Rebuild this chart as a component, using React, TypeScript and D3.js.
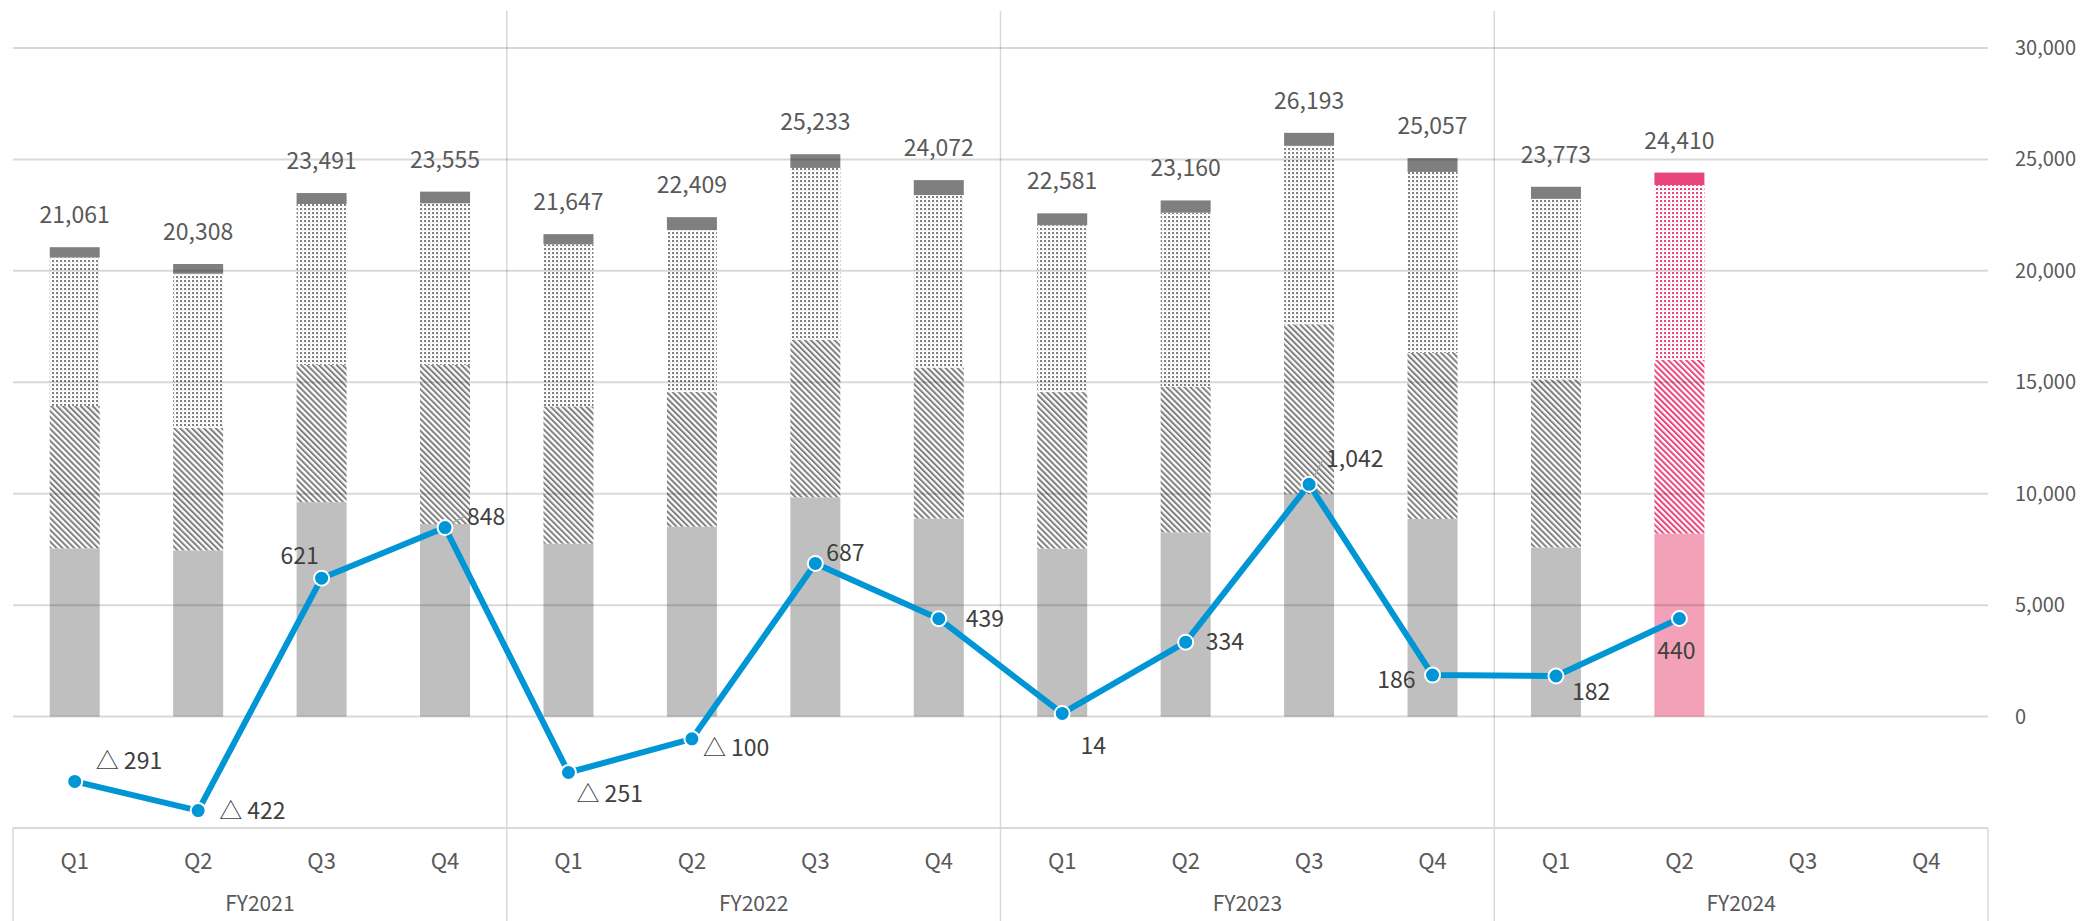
import React from 'react';
import * as d3 from 'd3';

const fiscalYears = ['FY2021', 'FY2022', 'FY2023', 'FY2024'];
const quarters = ['Q1', 'Q2', 'Q3', 'Q4'];
const totals = [21061, 20308, 23491, 23555, 21647, 22409, 25233, 24072, 22581, 23160, 26193, 25057, 23773, 24410];
const segSolid = [7550, 7460, 9620, 8640, 7760, 8520, 9840, 8890, 7540, 8270, 9980, 8870, 7590, 8210];
const segHatch = [6390, 5490, 6160, 7140, 6160, 6040, 7070, 6770, 7020, 6530, 7620, 7450, 7540, 7800];
const segDots = [6660, 6920, 7220, 7250, 7270, 7270, 7710, 7740, 7490, 7810, 8010, 8120, 8100, 7840];
const segCap = [461, 438, 491, 525, 457, 579, 613, 672, 531, 550, 583, 617, 543, 560];
const operatingIncome = [-291, -422, 621, 848, -251, -100, 687, 439, 14, 334, 1042, 186, 182, 440];
const leftTicks = [0, 5000, 10000, 15000, 20000, 25000, 30000];

// presentation: label placement for the line values
const lineLabelPlacement: { dx: number; dy: number; anchor: string; leader?: boolean }[] = [
  { dx: 21, dy: -20, anchor: 'start' },
  { dx: 21, dy: 0, anchor: 'start' },
  { dx: -22, dy: -22, anchor: 'middle' },
  { dx: 22, dy: -11, anchor: 'start', leader: true },
  { dx: 8, dy: 21, anchor: 'start' },
  { dx: 11, dy: 9, anchor: 'start' },
  { dx: 11, dy: -11, anchor: 'start' },
  { dx: 27, dy: 0, anchor: 'start' },
  { dx: 31, dy: 32, anchor: 'middle' },
  { dx: 20, dy: 0, anchor: 'start' },
  { dx: 17, dy: -25, anchor: 'start', leader: true },
  { dx: -17, dy: 5, anchor: 'end' },
  { dx: 16, dy: 16, anchor: 'start' },
  { dx: -3, dy: 32, anchor: 'middle' },
];

const W = 2088;
const H = 921;
const PLOT_L = 13;
const PLOT_R = 1988;
const PLOT_TOP = 11;
const AXIS_Y = 828;
const HIGHLIGHT = 13;
const FONT = '"Noto Sans CJK JP", "Noto Sans", sans-serif';
const TEXT = '#595959';

export default function App() {
  const cats = d3.range(fiscalYears.length * quarters.length);
  const x = d3.scaleBand<number>().domain(cats).range([PLOT_L, PLOT_R]);
  const bw = x.bandwidth();
  const barW = bw * 0.405;
  const y = d3.scaleLinear().domain([-5000, 30000]).range([AXIS_Y, 48]);
  const y2 = d3.scaleLinear().domain([-500, 3000]).range([AXIS_Y, 48]);
  const cx = (i: number) => (x(i) as number) + bw / 2;
  const fmt = d3.format(',');

  const stack = totals.map((_, i) => {
    const vals = [segSolid[i], segHatch[i], segDots[i], segCap[i]];
    let acc = 0;
    return vals.map((v) => {
      const s = { y0: acc, y1: acc + v };
      acc += v;
      return s;
    });
  });

  const fillsGray = ['#BFBFBF', 'url(#hatchGray)', 'url(#dotsGray)', '#7F7F7F'];
  const fillsPink = ['#F2A1B9', 'url(#hatchPink)', 'url(#dotsPink)', '#E8457A'];

  const line = d3
    .line<number>()
    .x((_, i) => cx(i))
    .y((d) => y2(d));

  const lineLabel = (v: number) => (v < 0 ? '△ ' + fmt(-v) : fmt(v));

  return (
    <svg
      width={W}
      height={H}
      style={{ position: 'absolute', left: 0, top: 0, background: '#fff' }}
      fontFamily={FONT}
    >
      <defs>
        <pattern id="hatchGray" width="4.2" height="4.2" patternUnits="userSpaceOnUse" patternTransform="rotate(-45)">
          <rect width="4.2" height="4.2" fill="#fff" />
          <rect width="2" height="4.2" fill="#7F7F7F" />
        </pattern>
        <pattern id="hatchPink" width="4.2" height="4.2" patternUnits="userSpaceOnUse" patternTransform="rotate(-45)">
          <rect width="4.2" height="4.2" fill="#fff" />
          <rect width="2" height="4.2" fill="#E8457A" />
        </pattern>
        <pattern id="dotsGray" width="4" height="4" patternUnits="userSpaceOnUse">
          <rect width="4" height="4" fill="#fff" />
          <rect width="2" height="2" fill="#808080" />
          <rect x="2" y="2" width="1" height="1" fill="#D0D0D0" />
        </pattern>
        <pattern id="dotsPink" width="4" height="4" patternUnits="userSpaceOnUse">
          <rect width="4" height="4" fill="#fff" />
          <rect width="2" height="2" fill="#E8457A" />
          <rect x="2" y="2" width="1" height="1" fill="#F5B8CA" />
        </pattern>
      </defs>

      {/* vertical dividers */}
      {d3.range(1, fiscalYears.length).map((g) => {
        const xx = x(g * quarters.length) as number;
        return <line key={'d' + g} x1={xx} x2={xx} y1={PLOT_TOP} y2={H} stroke="#D9D9D9" strokeWidth={1.5} />;
      })}
      <line x1={PLOT_L} x2={PLOT_L} y1={AXIS_Y} y2={H} stroke="#D9D9D9" strokeWidth={1.5} />
      <line x1={PLOT_R} x2={PLOT_R} y1={AXIS_Y} y2={H} stroke="#D9D9D9" strokeWidth={1.5} />

      {/* bars */}
      {stack.map((segs, i) =>
        segs.map((s, k) => (
          <rect
            key={`b${i}-${k}`}
            x={cx(i) - barW / 2}
            width={barW}
            y={y(s.y1)}
            height={y(s.y0) - y(s.y1)}
            fill={(i === HIGHLIGHT ? fillsPink : fillsGray)[k]}
          />
        ))
      )}

      {/* gridlines on top */}
      {leftTicks.map((t) => (
        <line key={'g' + t} x1={PLOT_L} x2={PLOT_R} y1={y(t)} y2={y(t)} stroke="#000" strokeOpacity={0.15} strokeWidth={2} />
      ))}
      <line x1={PLOT_L} x2={PLOT_R} y1={AXIS_Y} y2={AXIS_Y} stroke="#D9D9D9" strokeWidth={2} />

      {/* right axis labels */}
      {leftTicks.map((t) => (
        <text key={'t' + t} x={2015} y={y(t)} dy="0.35em" fontSize={20} fill={TEXT}>
          {fmt(t)}
        </text>
      ))}

      {/* totals */}
      {totals.map((t, i) => (
        <text key={'tot' + i} x={cx(i)} y={y(t) - 32} dy="0.35em" textAnchor="middle" fontSize={23} fill={TEXT}>
          {fmt(t)}
        </text>
      ))}

      {/* line */}
      <path d={line(operatingIncome) || ''} fill="none" stroke="#0096D6" strokeWidth={6} strokeLinejoin="round" />
      {operatingIncome.map((v, i) => {
        const p = lineLabelPlacement[i];
        const px = cx(i);
        const py = y2(v);
        return (
          <g key={'p' + i}>
            {p.leader && (
              <line x1={px + 2} y1={py - 2} x2={px + p.dx - 3} y2={py + p.dy} stroke="#A6A6A6" strokeWidth={1.5} />
            )}
            <circle cx={px} cy={py} r={7.5} fill="#0096D6" stroke="#fff" strokeWidth={2} />
          </g>
        );
      })}
      {operatingIncome.map((v, i) => {
        const p = lineLabelPlacement[i];
        return (
          <text
            key={'l' + i}
            x={cx(i) + p.dx}
            y={y2(v) + p.dy}
            dy="0.35em"
            textAnchor={p.anchor}
            fontSize={23}
            fill="#404040"
          >
            {lineLabel(v)}
          </text>
        );
      })}

      {/* category axis */}
      {cats.map((i) => (
        <text key={'q' + i} x={cx(i)} y={861} dy="0.35em" textAnchor="middle" fontSize={22} fill={TEXT}>
          {quarters[i % quarters.length]}
        </text>
      ))}
      {fiscalYears.map((fy, g) => {
        const a = x(g * quarters.length) as number;
        const b = (x(g * quarters.length + quarters.length - 1) as number) + bw;
        return (
          <text key={fy} x={(a + b) / 2} y={904} dy="0.35em" textAnchor="middle" fontSize={21} fill={TEXT}>
            {fy}
          </text>
        );
      })}
    </svg>
  );
}
